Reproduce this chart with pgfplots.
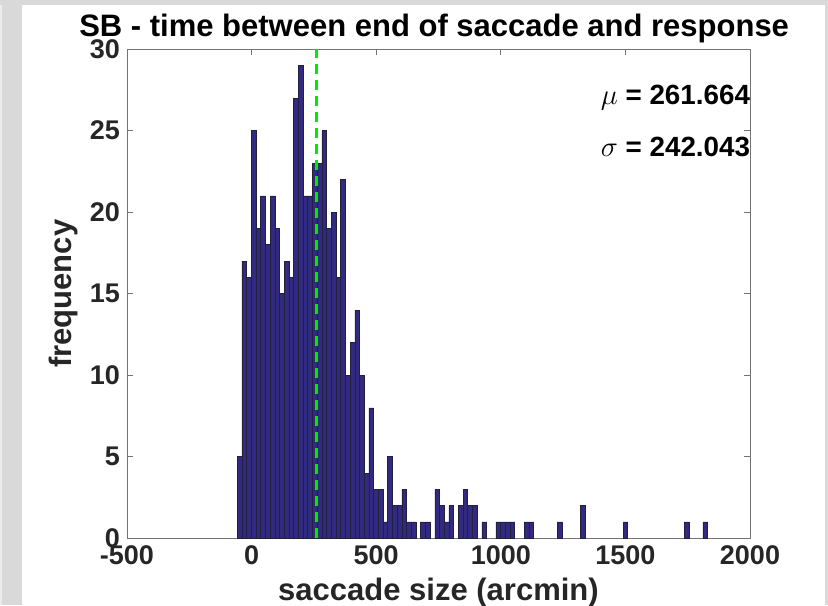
\documentclass[border=0pt]{standalone}
\usepackage{pgfplots}
\pgfplotsset{compat=1.18}
\usepackage{fontspec}
\setmainfont{Liberation Sans}
\definecolor{barfill}{RGB}{50,42,128}
\definecolor{baredge}{RGB}{35,32,60}
\definecolor{meangreen}{RGB}{0,235,0}
\definecolor{framegray}{RGB}{217,217,217}
\definecolor{framelight}{RGB}{236,236,236}
\definecolor{ticktext}{RGB}{38,38,38}
\begin{document}
\begin{tikzpicture}
\useasboundingbox (0pt,0pt) rectangle (414pt,302.5pt);
\fill[framegray] (0pt,0pt) rectangle (414pt,302.5pt);
\fill[framelight] (0pt,0pt) rectangle (1pt,300pt);
\fill[white] (11pt,0pt) rectangle (412.5pt,300pt);
\begin{axis}[
  at={(63.5pt,33.35pt)}, anchor=south west,
  scale only axis, width=311.5pt, height=244.6pt,
  xmin=-500, xmax=2000, ymin=0, ymax=30,
  xtick={-500,0,500,1000,1500,2000},
  ytick={0,5,10,15,20,25,30},
  tick align=inside, tick pos=both,
  major tick length=3pt,
  axis line style={black!55, line width=0.5pt},
  every tick/.style={black!55, line width=0.5pt},
  /pgf/number format/assume math mode=true,
  /pgf/number format/1000 sep={},
  tick label style={font=\fontsize{13.5}{14}\selectfont\bfseries, text=ticktext},
  every axis title shift=0pt,
  title={SB - time between end of saccade and response},
  title style={font=\fontsize{15.5}{17}\selectfont\bfseries, at={(axis description cs:0.493,1.0258)}, anchor=base},
  xlabel={saccade size (arcmin)},
  xlabel style={font=\fontsize{15.5}{17}\selectfont\bfseries, text=ticktext, at={(axis description cs:0.5,-0.127)}, anchor=base},
  ylabel={frequency},
  ylabel style={font=\fontsize{15.5}{17}\selectfont\bfseries, text=ticktext, at={(axis description cs:-0.0895,0.5)}, anchor=base, rotate=0},
  clip=false,
]
\addplot[ybar, bar width=18.88, bar shift=0pt, fill=barfill, draw=baredge, line width=0.3pt] coordinates {
(-48.36,5) (-29.48,17) (-10.60,16) (8.28,25) (27.16,19) (46.04,21) (64.92,18) (83.80,21) (102.68,19) (121.56,15)
(140.44,17) (159.32,16) (178.20,27) (197.08,29) (215.96,21) (234.84,21) (253.72,23) (272.60,23) (291.48,25) (310.36,19)
(329.24,20) (348.12,16) (367.00,22) (385.88,10) (404.76,12) (423.64,14) (442.52,10) (461.40,4) (480.28,8) (499.16,3)
(518.04,3) (536.92,1) (555.80,5) (574.68,2) (593.56,2) (612.44,3) (631.32,1) (650.20,1) (687.96,1) (706.84,1)
(744.60,3) (763.48,2) (782.36,1) (801.24,2) (839.00,2) (857.88,3) (876.76,2) (895.64,2) (933.40,1) (990.04,1)
(1008.92,1) (1027.80,1) (1046.68,1) (1103.32,1) (1122.20,1) (1235.48,1) (1329.88,2) (1499.80,1) (1745.24,1) (1820.76,1)
};
\addplot[meangreen, line width=1.5pt, dash pattern=on 5pt off 3pt] coordinates {(261.664,0) (261.664,30)};
\node[anchor=west, font=\fontsize{13.9}{15}\selectfont\bfseries, inner sep=0pt] at (axis cs:1400,27) {$\mu$ = 261.664};
\node[anchor=west, font=\fontsize{13.9}{15}\selectfont\bfseries, inner sep=0pt] at (axis cs:1400,24) {$\sigma$ = 242.043};
\end{axis}
\end{tikzpicture}
\end{document}
